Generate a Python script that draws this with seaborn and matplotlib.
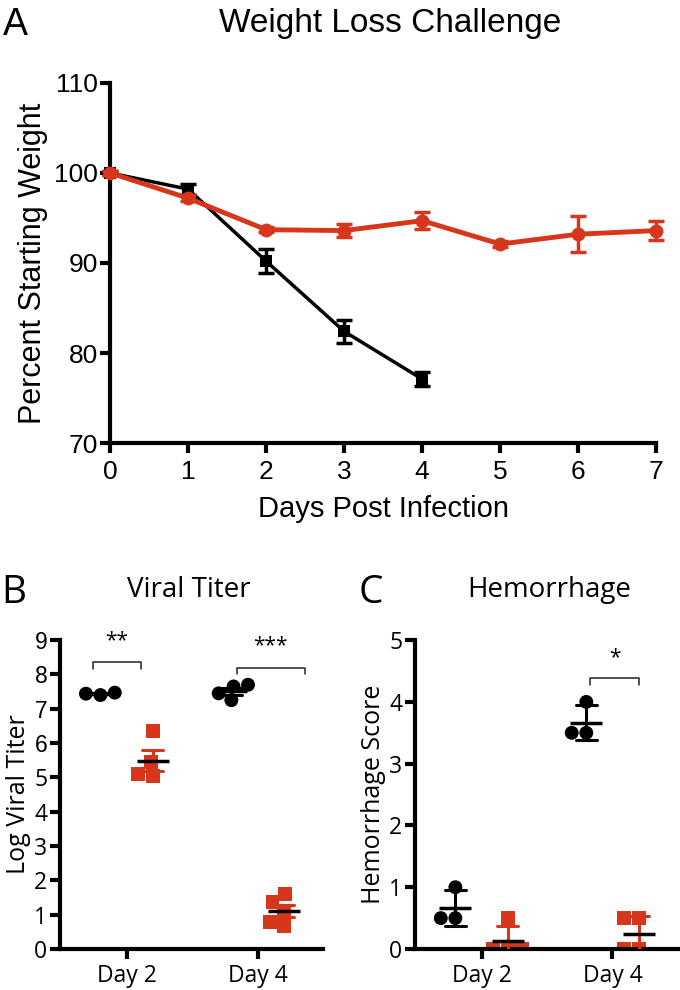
import numpy as np
import pandas as pd
import matplotlib
matplotlib.use("Agg")
import matplotlib.pyplot as plt
import seaborn as sns

red = "#d8361a"

# panel A: weight loss (mean and error)
days_black = [0, 1, 2, 3, 4]
weight_black = [100, 98.2, 90.2, 82.4, 77.1]
err_black = [0.2, 0.6, 1.3, 1.3, 0.8]
days_red = [0, 1, 2, 3, 4, 5, 6, 7]
weight_red = [100, 97.2, 93.7, 93.6, 94.7, 92.1, 93.2, 93.6]
err_red = [0.2, 0.3, 0.3, 0.75, 0.95, 0.3, 2.0, 1.1]

# panel B: viral titer, individual animals
day_labels = ["Day 2", "Day 4"]
groups = ["black", "red"]
titer_black_d2 = [7.47, 7.40, 7.44]
titer_red_d2 = [6.35, 5.45, 5.1, 5.05]
titer_black_d4 = [7.7, 7.65, 7.45, 7.25]
titer_red_d4 = [1.6, 1.38, 1.12, 0.8, 0.68]

# panel C: hemorrhage score
hem_black_d2 = [1.0, 0.5, 0.5]
hem_red_d2 = [0.5, 0.0, 0.0, 0.0]
hem_black_d4 = [4.0, 3.5, 3.5]
hem_red_d4 = [0.5, 0.5, 0.0, 0.0]


def long_df(bd2, rd2, bd4, rd4):
    rows = []
    for day, grp, vals in [("Day 2", "black", bd2), ("Day 2", "red", rd2),
                           ("Day 4", "black", bd4), ("Day 4", "red", rd4)]:
        for v in vals:
            rows.append({"day": day, "group": grp, "value": v})
    return pd.DataFrame(rows)


df_b = long_df(titer_black_d2, titer_red_d2, titer_black_d4, titer_red_d4)
df_c = long_df(hem_black_d2, hem_red_d2, hem_black_d4, hem_red_d4)

sns.set_style("ticks")
plt.rcParams["font.family"] = ["Liberation Sans", "DejaVu Sans"]
for k in ("text.color", "axes.labelcolor", "xtick.color", "ytick.color", "axes.edgecolor"):
    plt.rcParams[k] = "black"
OPEN = ["Open Sans", "DejaVu Sans"]
pal = {"black": "black", "red": red}

fig = plt.figure(figsize=(6.8, 9.9), dpi=100)
axA = fig.add_axes([0.162, 0.5525, 0.803, 0.3637])
axB = fig.add_axes([0.088, 0.0414, 0.387, 0.312])
axC = fig.add_axes([0.610, 0.0414, 0.387, 0.312])

# ---- A
sns.lineplot(x=days_black, y=weight_black, color="black", marker="s", markersize=9,
             markeredgewidth=0, linewidth=2.5, ax=axA, clip_on=False, zorder=3)
axA.errorbar(days_black, weight_black, yerr=err_black, fmt="none", ecolor="black",
             elinewidth=2.5, capsize=6, capthick=2.5, clip_on=False, zorder=3)
sns.lineplot(x=days_red, y=weight_red, color=red, marker="o", markersize=10,
             markeredgewidth=0, linewidth=3.5, ax=axA, clip_on=False, zorder=4)
axA.errorbar(days_red, weight_red, yerr=err_red, fmt="none", ecolor=red,
             elinewidth=2.5, capsize=6, capthick=2.5, clip_on=False, zorder=4)
axA.set_xlim(0, 7)
axA.set_ylim(70, 110)
axA.set_xticks(range(0, 8))
axA.set_yticks(range(70, 111, 10))
axA.set_xlabel("Days Post Infection", fontsize=21, labelpad=8)
axA.set_ylabel("Percent Starting Weight", fontsize=22, labelpad=4)
axA.tick_params(labelsize=19, width=3, length=7, pad=2)
axA.tick_params(axis="x", pad=5)


def dot_panel(ax, df, errorbar):
    for grp, mk in [("black", "o"), ("red", "s")]:
        sns.swarmplot(data=df[df.group == grp], x="day", y="value", hue="group",
                      order=day_labels, hue_order=groups, dodge=True, palette=pal,
                      marker=mk, size=10, linewidth=0, ax=ax, legend=False, zorder=2)
    sns.pointplot(data=df, x="day", y="value", hue="group", order=day_labels,
                  hue_order=groups, dodge=0.4, errorbar=errorbar, capsize=0.16,
                  linestyle="none", marker="", palette=pal, ax=ax, legend=False,
                  err_kws={"linewidth": 2.2, "zorder": 4})
    sns.pointplot(data=df, x="day", y="value", hue="group", order=day_labels,
                  hue_order=groups, dodge=0.4, errorbar=None, linestyle="none",
                  marker="_", markersize=23, markeredgewidth=2.5,
                  palette={"black": "black", "red": "black"}, ax=ax, legend=False,
                  zorder=5)
    ax.set_xlim(-0.51, 1.5)
    ax.set_xlabel("")
    ax.tick_params(width=3, length=7, pad=2)
    ax.tick_params(axis="x", labelsize=16.5, pad=4)
    ax.tick_params(axis="y", labelsize=16.5)
    for t in ax.get_xticklabels() + ax.get_yticklabels():
        t.set_fontfamily(OPEN)


def bracket(ax, x0, x1, y, h, text):
    ax.plot([x0, x0, x1, x1], [y - h, y, y, y - h], color="#222222", lw=1.1, clip_on=False)
    ax.text((x0 + x1) / 2, y + 1.6 * h, text, ha="center", va="bottom", fontsize=15,
            family=OPEN)


dot_panel(axB, df_b, "se")
axB.set_ylim(0, 9)
axB.set_yticks(range(0, 10))
axB.set_ylabel("Log Viral Titer", fontsize=18, labelpad=2, family=OPEN)
bracket(axB, -0.26, 0.11, 8.36, 0.2, "**")
bracket(axB, 0.84, 1.36, 8.2, 0.2, "***")

dot_panel(axC, df_c, "sd")
axC.set_ylim(0, 5)
axC.set_yticks(range(0, 6))
axC.set_ylabel("Hemorrhage Score", fontsize=18, labelpad=2, family=OPEN)
bracket(axC, 0.83, 1.2, 4.38, 0.1, "*")

for ax in (axA, axB, axC):
    sns.despine(ax=ax)
    for s in ("left", "bottom"):
        ax.spines[s].set_linewidth(3)

fig.text(0.005, 0.965, "A", fontsize=27, va="baseline", ha="left")
fig.text(0.573, 0.968, "Weight Loss Challenge", fontsize=24, va="baseline", ha="center")
fig.text(0.002, 0.391, "B", fontsize=28, va="baseline", ha="left", family=OPEN)
fig.text(0.278, 0.397, "Viral Titer", fontsize=20, va="baseline", ha="center", family=OPEN)
fig.text(0.528, 0.391, "C", fontsize=28, va="baseline", ha="left", family=OPEN)
fig.text(0.808, 0.397, "Hemorrhage", fontsize=20, va="baseline", ha="center", family=OPEN)

fig.savefig("out.png", dpi=100)
